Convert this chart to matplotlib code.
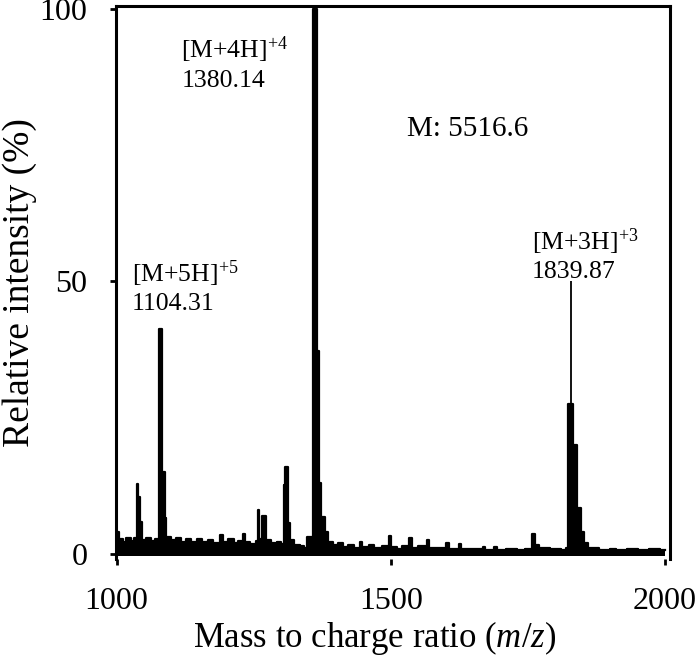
"""Mass spectrum of the intact peptide with charge-state annotations."""

import matplotlib

matplotlib.use("Agg")
import matplotlib.pyplot as plt

plt.rcParams["font.family"] = ["Liberation Serif", "DejaVu Serif"]
plt.rcParams["mathtext.fontset"] = "custom"
plt.rcParams["mathtext.rm"] = "Liberation Serif"
plt.rcParams["mathtext.it"] = "Liberation Serif:italic"

trace_mz = [
    999, 1004, 1012, 1018, 1026, 1032, 1037, 1040, 1042, 1046,
    1054, 1062, 1070, 1078, 1083, 1088, 1091, 1100, 1108, 1118,
    1126, 1136, 1146, 1156, 1166, 1176, 1188, 1194, 1204, 1214,
    1222, 1230, 1234, 1244, 1254, 1257, 1260, 1266, 1273, 1282,
    1292, 1300, 1305, 1308, 1312, 1316, 1324, 1334, 1342, 1347,
    1356, 1358, 1366, 1369, 1373, 1380, 1386, 1394, 1404, 1412,
    1422, 1432, 1444, 1448, 1460, 1470, 1484, 1494, 1497, 1500,
    1512, 1520, 1534, 1538, 1550, 1566, 1570, 1582, 1600, 1606,
    1618, 1624, 1628, 1640, 1668, 1672, 1689, 1693, 1710, 1730,
    1745, 1757, 1763, 1770, 1790, 1810, 1820, 1823, 1833, 1840,
    1846, 1852, 1860, 1880, 1900, 1910, 1930, 1950, 1970, 1990,
    2000,
]
trace_int = [
    4.0, 2.6, 2.2, 2.8, 2.3, 2.9, 12.8, 10.4, 5.8, 2.5,
    2.9, 2.3, 2.7, 41.3, 15.0, 6.5, 3.0, 2.4, 2.8, 2.2,
    2.6, 2.2, 2.7, 2.1, 2.5, 2.0, 3.4, 2.2, 2.6, 2.0,
    2.3, 3.6, 2.1, 1.8, 2.3, 8.0, 2.6, 6.9, 2.4, 1.9,
    2.2, 1.7, 12.6, 15.9, 5.6, 2.4, 1.6, 1.4, 1.0, 3.1,
    1.5, 100.0, 37.2, 13.0, 6.8, 4.0, 2.2, 1.6, 1.9, 1.2,
    1.6, 1.1, 2.2, 1.2, 1.5, 1.0, 1.4, 1.0, 3.3, 1.2,
    0.9, 1.4, 2.9, 1.0, 1.3, 2.4, 1.0, 1.1, 2.0, 0.9,
    0.8, 1.8, 0.8, 0.9, 1.2, 0.6, 1.2, 0.6, 0.8, 0.6,
    0.8, 3.6, 1.6, 1.1, 0.8, 0.6, 1.0, 27.5, 19.9, 8.4,
    4.0, 2.0, 1.0, 0.7, 0.9, 0.6, 0.8, 0.6, 0.8, 0.6,
    0.6,
]

# Thin apex of the [M+3H]+3 peak above its broad base.
apex_mz = [1828]
apex_low = [27.5]
apex_high = [50.1]

# Annotations: text lines and their anchor (m/z, intensity).
ion_labels = ["[M+5H]$^{+5}$", "[M+4H]$^{+4}$", "[M+3H]$^{+3}$"]
ion_values = ["1104.31", "1380.14", "1839.87"]
label_mz = [1028, 1118, 1757]
label_int = [51.4, 92.4, 57.2]
mass_text = "M: 5516.6"
mass_pos = (1530, 78.0)

x_ticks = [1000, 1500, 2000]
y_ticks = [0, 50, 100]

fig = plt.figure(figsize=(7.0, 6.58), dpi=100)
ax = fig.add_axes([116 / 700, 99 / 658, 554 / 700, 553 / 658])

ax.fill_between(trace_mz, -0.4, trace_int, step="post", color="black", lw=0)
ax.step(trace_mz, trace_int, where="post", color="black", lw=1.6)
ax.vlines(apex_mz, apex_low, apex_high, color="black", lw=1.3)

for name, value, mz, y in zip(ion_labels, ion_values, label_mz, label_int):
    ax.text(mz, y, name, fontsize=18.5, va="center", ha="left")
    ax.text(mz, y - 5.6, value, fontsize=18.5, va="center", ha="left")
ax.text(mass_pos[0], mass_pos[1], mass_text, fontsize=21, va="center", ha="left")

ax.set_xlim(999, 2009)
ax.set_ylim(-1, 100.5)
ax.set_xticks(x_ticks)
ax.set_yticks(y_ticks)
ax.tick_params(axis="both", direction="out", length=4.5, width=2,
               labelsize=23, pad=16, color="black")

for side in ("left", "right", "top"):
    ax.spines[side].set_linewidth(2.2)
ax.spines["bottom"].set_visible(False)

ax.set_xlabel("Mass to charge ratio ($m$/$z$)", fontsize=25, labelpad=0)
ax.xaxis.set_label_coords(0.467, -0.108)
ax.set_ylabel("Relative intensity (%)", fontsize=27, labelpad=2)

fig.savefig("out.png", dpi=100)
